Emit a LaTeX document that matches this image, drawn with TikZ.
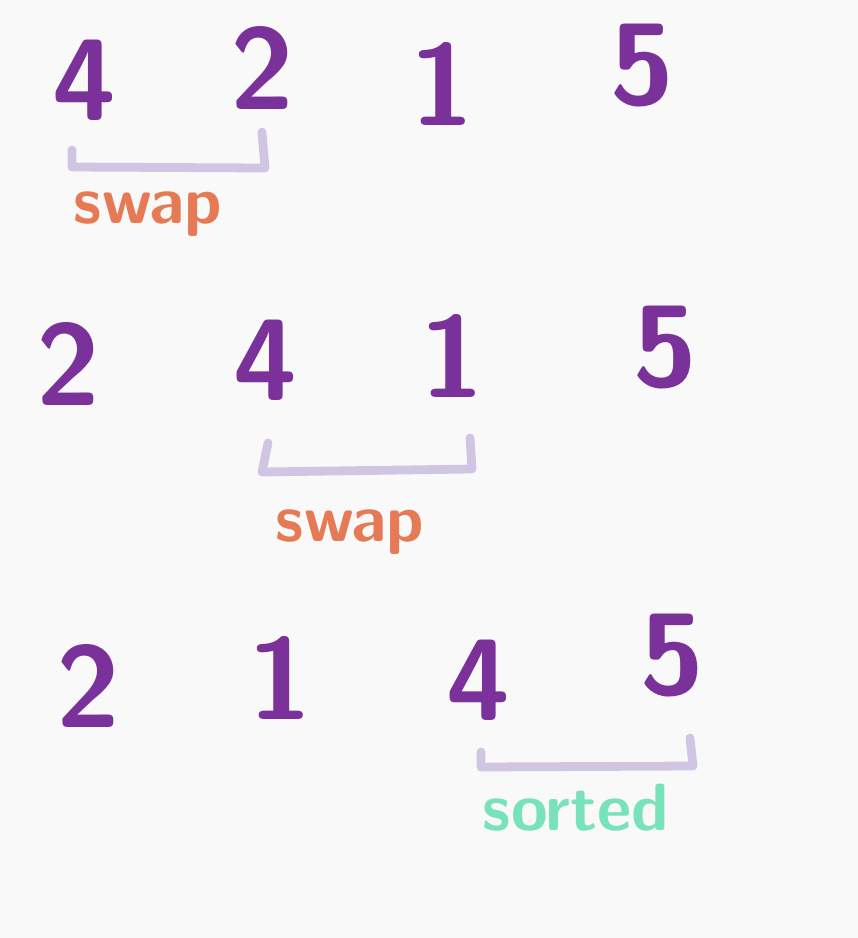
\documentclass[tikz,border=0pt]{standalone}
\usepackage{fontspec}
\setmainfont{DejaVu Sans}
\usepackage{tikz}
\usepackage{xcolor}

\definecolor{digitpurple}{HTML}{7A3199}
\definecolor{bracketlilac}{HTML}{D0C6E4}
\definecolor{swaporange}{HTML}{E57A55}
\definecolor{sortedgreen}{HTML}{78E2BA}
\definecolor{paper}{HTML}{F9F9F9}

\tikzset{
    digit/.style={text=digitpurple, font=\fontsize{66}{70}\selectfont\sffamily\bfseries},
    bracket/.style={bracketlilac, line width=5pt, line cap=round, line join=round},
    word/.style={font=\fontsize{38}{42}\selectfont\sffamily\bfseries}
}

\begin{document}
\begin{tikzpicture}[x=0.02cm, y=-0.02cm]
    % Background
    \fill[paper] (0, 0) rectangle (858, 938);
    \useasboundingbox (0, 0) rectangle (858, 938);

    % First pass: 4 2 1 5
    \node[digit] (a4) at (84, 80) {4};
    \node[digit] (a2) at (262, 68) {2};
    \node[digit] (a1) at (442, 84) {1};
    \node[digit] (a5) at (642, 66) {5};
    \draw[bracket] (72, 150) -- (72, 167) -- (265, 168) -- (262, 132); % under 4 and 2
    \node[word, text=swaporange] (swapA) at (148, 214) {swap};

    % Second pass: 2 4 1 5
    \node[digit] (b2) at (68, 364) {2};
    \node[digit] (b4) at (265, 360) {4};
    \node[digit] (b1) at (452, 356) {1};
    \node[digit] (b5) at (665, 348) {5};
    \draw[bracket] (268, 443) -- (262, 472) -- (472, 469) -- (470, 438); % under 4 and 1
    \node[word, text=swaporange] (swapB) at (350, 532) {swap};

    % Third pass: 2 1 4 5
    \node[digit] (c2) at (88, 686) {2};
    \node[digit] (c1) at (280, 678) {1};
    \node[digit] (c4) at (478, 680) {4};
    \node[digit] (c5) at (672, 656) {5};
    \draw[bracket] (481, 752) -- (481, 767) -- (693, 766) -- (690, 738); % under 4 and 5
    \node[word, text=sortedgreen] (sortedC) at (576, 808) {sorted};
\end{tikzpicture}
\end{document}
